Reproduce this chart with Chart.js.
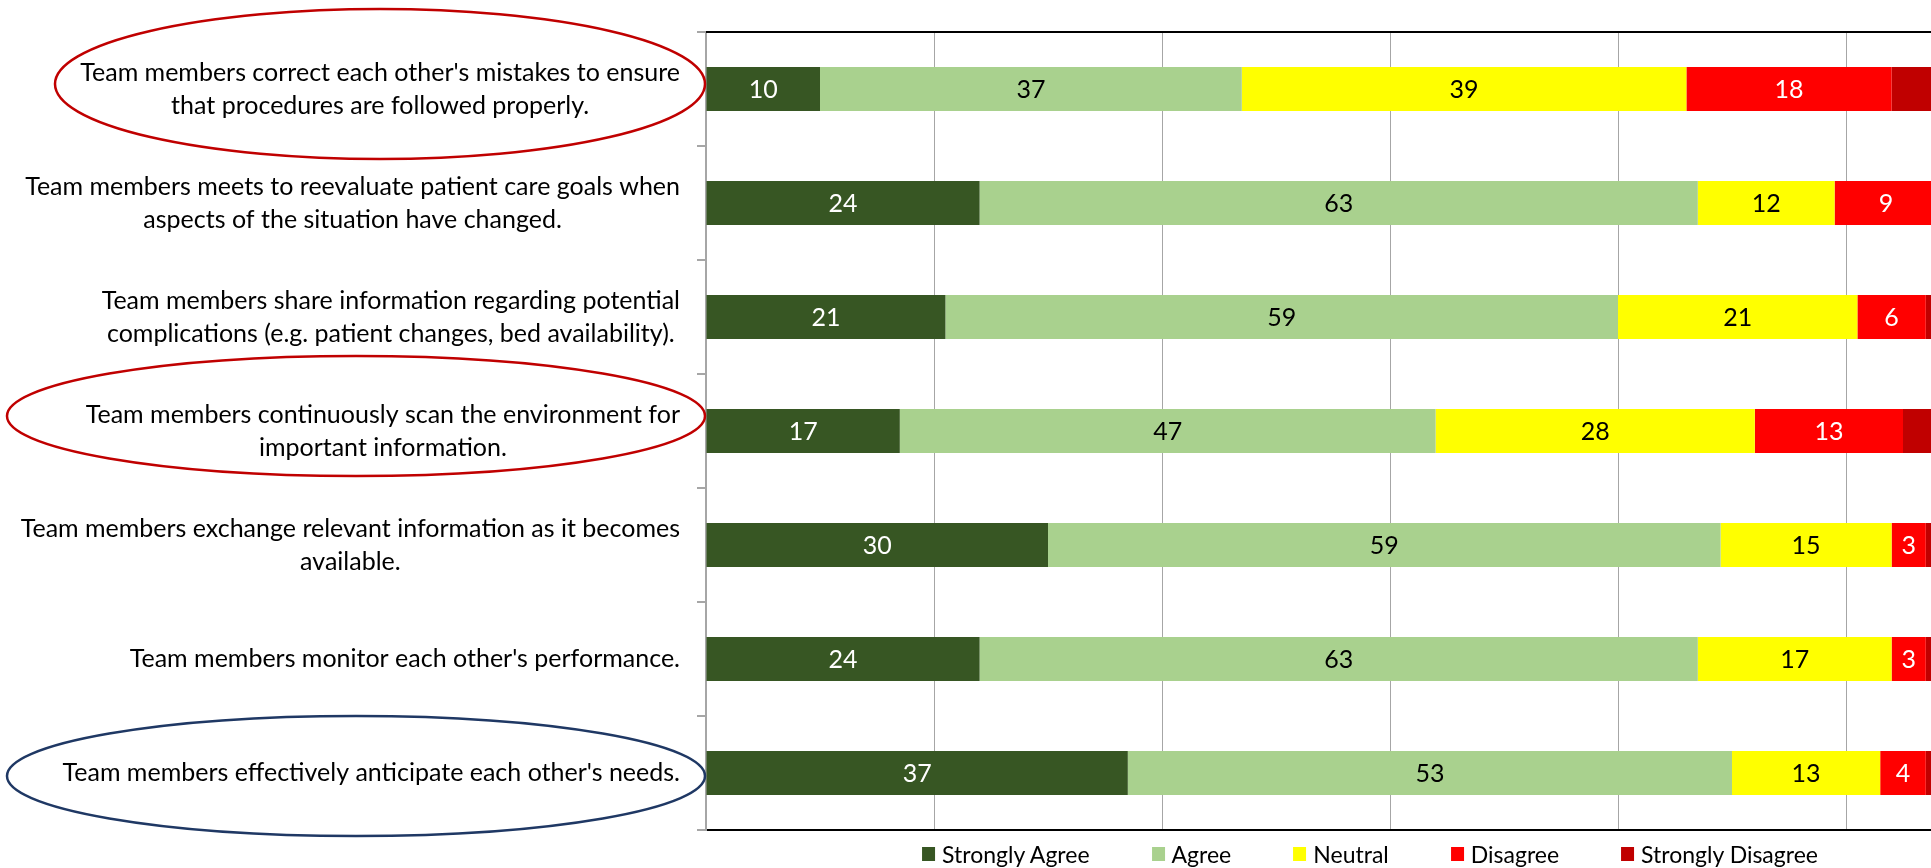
<!DOCTYPE html>
<html>
<head>
<meta charset="utf-8">
<title>Team situation monitoring survey</title>
<script src="https://cdn.jsdelivr.net/npm/chart.js@4.4.0/dist/chart.umd.min.js"></script>
<style>
  html, body { margin: 0; padding: 0; background: #fff; overflow: hidden; }
  #wrap { position: relative; width: 1931px; height: 868px; overflow: hidden; }
  #surveyChart { position: absolute; left: 0; top: 0; }
  #legend {
    position: absolute; top: 840px; left: 1370px; transform: translateX(-50%);
    display: flex; gap: 62px; align-items: center;
    font: 23px Lato, sans-serif; color: #000; white-space: nowrap;
  }
  #legend .item { display: flex; align-items: center; }
  #legend .box { display: inline-block; width: 13px; height: 14px; margin-right: 7px; }
</style>
</head>
<body>
<div id="wrap">
  <canvas id="surveyChart" width="2080" height="868"></canvas>
  <div id="legend"></div>
</div>
<script>
// question text, one array entry per line
const questions = [
  ["Team members correct each other's mistakes to ensure", "that procedures are followed properly."],
  ["Team members meets to reevaluate patient care goals when", "aspects of the situation have changed."],
  ["Team members share information regarding potential", "complications (e.g. patient changes, bed availability)."],
  ["Team members continuously scan the environment for", "important information."],
  ["Team members exchange relevant information as it becomes", "available."],
  ["Team members monitor each other's performance."],
  ["Team members effectively anticipate each other's needs."]
];

const stronglyAgree    = [10, 24, 21, 17, 30, 24, 37];
const agree            = [37, 63, 59, 47, 59, 63, 53];
const neutral          = [39, 12, 21, 28, 15, 17, 13];
const disagree         = [18,  9,  6, 13,  3,  3,  4];
const stronglyDisagree = [ 8,  2,  3,  7,  3,  3,  3];

const seriesNames  = ['Strongly Agree', 'Agree', 'Neutral', 'Disagree', 'Strongly Disagree'];
const seriesValues = [stronglyAgree, agree, neutral, disagree, stronglyDisagree];
const seriesColors = ['#375623', '#A9D18E', '#FFFF00', '#FF0000', '#C00000'];
const valueColors  = ['#ffffff', '#000000', '#000000', '#ffffff', null];

const xMax = 120;
const xStep = 20;

const LABEL_FONT = '25px Lato, sans-serif';
const LABEL_RIGHT = 680;
const LINE_H = 33;

// rings drawn around some of the questions
const highlights = [
  { row: 0, cx: 380, dy: -5, rx: 325, ry: 75, color: '#C00000' },
  { row: 3, cx: 356, dy: -15, rx: 349, ry: 60, color: '#C00000' },
  { row: 6, cx: 356, dy: 3, rx: 349, ry: 60, color: '#1F3864' }
];

const questionLabels = {
  id: 'questionLabels',
  afterDraw(chart) {
    const { ctx, chartArea, scales: { y } } = chart;
    ctx.save();

    // dark frame line along the top of the plot
    ctx.strokeStyle = '#000';
    ctx.lineWidth = 2;
    ctx.beginPath();
    ctx.moveTo(chartArea.left, chartArea.top);
    ctx.lineTo(chartArea.right, chartArea.top);
    ctx.stroke();

    ctx.font = LABEL_FONT;
    ctx.fillStyle = '#000';
    ctx.textAlign = 'center';
    ctx.textBaseline = 'middle';
    questions.forEach((lines, i) => {
      const yc = y.getPixelForTick(i);
      const w = Math.max(...lines.map(l => ctx.measureText(l).width));
      const cx = LABEL_RIGHT - w / 2;
      const top = yc - (lines.length - 1) * LINE_H / 2;
      lines.forEach((l, j) => ctx.fillText(l, cx, top + j * LINE_H));
    });

    ctx.lineWidth = 2.5;
    highlights.forEach(h => {
      ctx.strokeStyle = h.color;
      ctx.beginPath();
      ctx.ellipse(h.cx, y.getPixelForTick(h.row) + h.dy, h.rx, h.ry, 0, 0, Math.PI * 2);
      ctx.stroke();
    });
    ctx.restore();
  }
};

const barValues = {
  id: 'barValues',
  afterDatasetsDraw(chart) {
    const { ctx } = chart;
    ctx.save();
    ctx.font = LABEL_FONT;
    ctx.textAlign = 'center';
    ctx.textBaseline = 'middle';
    chart.data.datasets.forEach((ds, di) => {
      if (!valueColors[di]) return;
      ctx.fillStyle = valueColors[di];
      chart.getDatasetMeta(di).data.forEach((bar, i) => {
        const v = ds.data[i];
        if (!v) return;
        ctx.fillText(v, (bar.x + bar.base) / 2, bar.y + 1);
      });
    });
    ctx.restore();
  }
};

new Chart(document.getElementById('surveyChart'), {
  type: 'bar',
  data: {
    labels: questions.map(q => q.join(' ')),
    datasets: seriesNames.map((name, i) => ({
      label: name,
      data: seriesValues[i],
      backgroundColor: seriesColors[i],
      borderWidth: 0,
      categoryPercentage: 1,
      barPercentage: 0.386
    }))
  },
  options: {
    responsive: false,
    animation: false,
    indexAxis: 'y',
    layout: { padding: { left: 697, right: 6, top: 32, bottom: 38 } },
    plugins: { legend: { display: false }, tooltip: { enabled: false } },
    scales: {
      x: {
        stacked: true, min: 0, max: xMax,
        ticks: { display: false, stepSize: xStep },
        grid: { color: '#a6a6a6', lineWidth: 1, drawTicks: false },
        border: { color: '#000', width: 2 }
      },
      y: {
        stacked: true,
        ticks: { display: false },
        grid: { drawOnChartArea: false, drawTicks: true, tickLength: 9, color: '#a6a6a6', lineWidth: 2, offset: true },
        border: { color: '#a6a6a6', width: 2 }
      }
    }
  },
  plugins: [barValues, questionLabels]
});

// legend row under the plot
const legendEl = document.getElementById('legend');
seriesNames.forEach((name, i) => {
  const item = document.createElement('div');
  item.className = 'item';
  const box = document.createElement('span');
  box.className = 'box';
  box.style.background = seriesColors[i];
  item.appendChild(box);
  item.appendChild(document.createTextNode(name));
  legendEl.appendChild(item);
});
</script>
</body>
</html>
